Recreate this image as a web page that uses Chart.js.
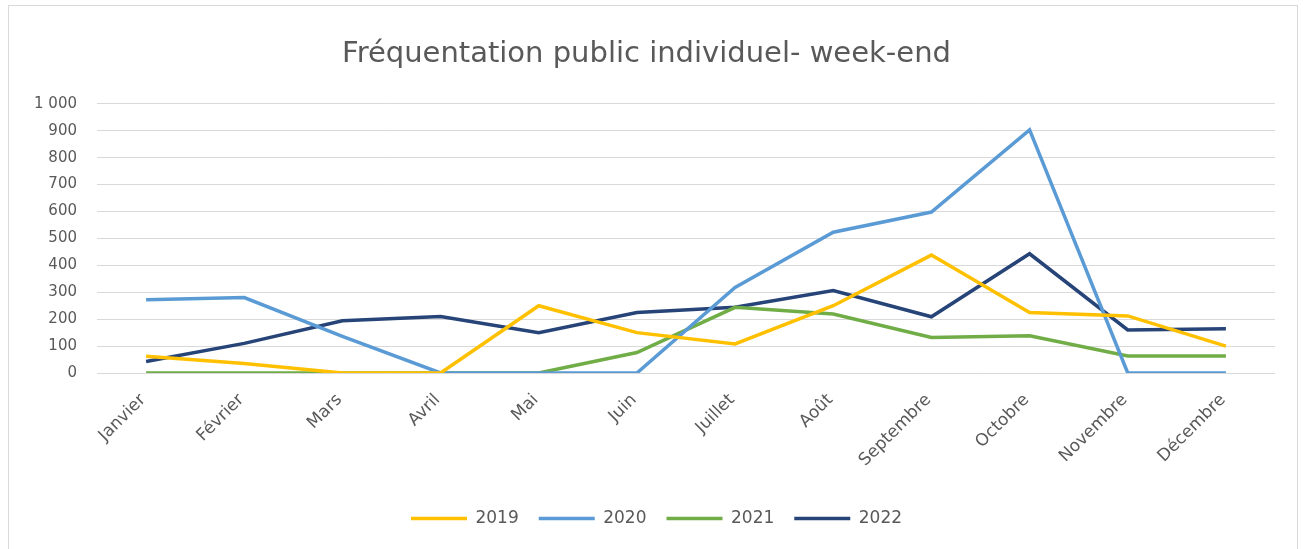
<!DOCTYPE html>
<html>
<head>
<meta charset="utf-8">
<script src="https://cdn.jsdelivr.net/npm/chart.js@4/dist/chart.umd.min.js"></script>
<style>
  html, body { margin: 0; padding: 0; background: #fff; }
  #wrap { position: relative; width: 1305px; height: 549px; }
  #frame { position: absolute; left: 8px; top: 5px; width: 1290px; height: 560px; border: 1px solid #D9D9D9; box-sizing: border-box; pointer-events: none; }
  canvas { position: absolute; left: 0; top: 0; }
</style>
</head>
<body>
<div id="wrap">
  <canvas id="c" width="1305" height="549"></canvas>
  <div id="frame"></div>
</div>
<script>
const months = ["Janvier", "Février", "Mars", "Avril", "Mai", "Juin", "Juillet", "Août", "Septembre", "Octobre", "Novembre", "Décembre"];
const seriesNames = ["2019", "2020", "2021", "2022"];
const values2019 = [62, 35, 0, 0, 250, 150, 108, 250, 438, 225, 212, 100];
const values2020 = [272, 280, 136, 0, 0, 0, 318, 523, 598, 903, 0, 0];
const values2021 = [0, 0, 0, 0, 0, 76, 244, 219, 132, 138, 63, 63];
const values2022 = [43, 110, 194, 210, 150, 225, 244, 306, 209, 443, 160, 164];
const yTicks = [0, 100, 200, 300, 400, 500, 600, 700, 800, 900, 1000];

const colors = ["#FFC000", "#5B9BD5", "#70AD47", "#264478"];
const allValues = [values2019, values2020, values2021, values2022];

const fontFamily = "'DejaVu Sans', 'Open Sans', sans-serif";
const textColor = "#595959";

const legendShift = {
  id: "legendShift",
  afterUpdate(chart) {
    const lg = chart.legend;
    if (lg) { lg.left += 10; lg.right += 10; }
  }
};

new Chart(document.getElementById("c"), {
  type: "line",
  data: {
    labels: months,
    datasets: seriesNames.map((name, i) => ({
      label: name,
      data: allValues[i],
      borderColor: colors[i],
      backgroundColor: colors[i],
      borderWidth: 3.5,
      pointRadius: 0,
      tension: 0,
      fill: false
    }))
  },
  plugins: [legendShift],
  options: {
    responsive: false,
    animation: false,
    devicePixelRatio: 1,
    layout: { padding: { left: 18, right: 30, top: 37, bottom: 12 } },
    plugins: {
      title: {
        display: true,
        text: "Fréquentation public individuel- week-end",
        color: textColor,
        font: { family: fontFamily, size: 29, weight: "normal" },
        padding: { top: 0, bottom: 32 }
      },
      legend: {
        position: "bottom",
        labels: {
          usePointStyle: true,
          pointStyle: "line",
          pointStyleWidth: 56,
          boxHeight: 4,
          color: textColor,
          font: { family: fontFamily, size: 17 },
          padding: 20
        }
      },
      tooltip: { enabled: false }
    },
    scales: {
      x: {
        offset: true,
        grid: { display: false, drawTicks: false },
        border: { display: false },
        ticks: {
          color: textColor,
          font: { family: fontFamily, size: 17 },
          maxRotation: 45,
          minRotation: 45,
          padding: 17,
          labelOffset: -3
        },
        afterFit: (s) => { s.height = 117; }
      },
      y: {
        min: 0,
        max: 1000,
        afterBuildTicks: (s) => { s.ticks = yTicks.map(v => ({ value: v })); },
        grid: { color: "#D9D9D9", lineWidth: 1, drawTicks: false },
        border: { display: false },
        ticks: {
          color: textColor,
          font: { family: fontFamily, size: 15 },
          padding: 20,
          callback: (v) => v >= 1000 ? String(v).replace(/\B(?=(\d{3})+(?!\d))/g, " ") : String(v)
        },
        afterFit: (s) => { s.width = 79; }
      }
    }
  }
});
</script>
</body>
</html>
